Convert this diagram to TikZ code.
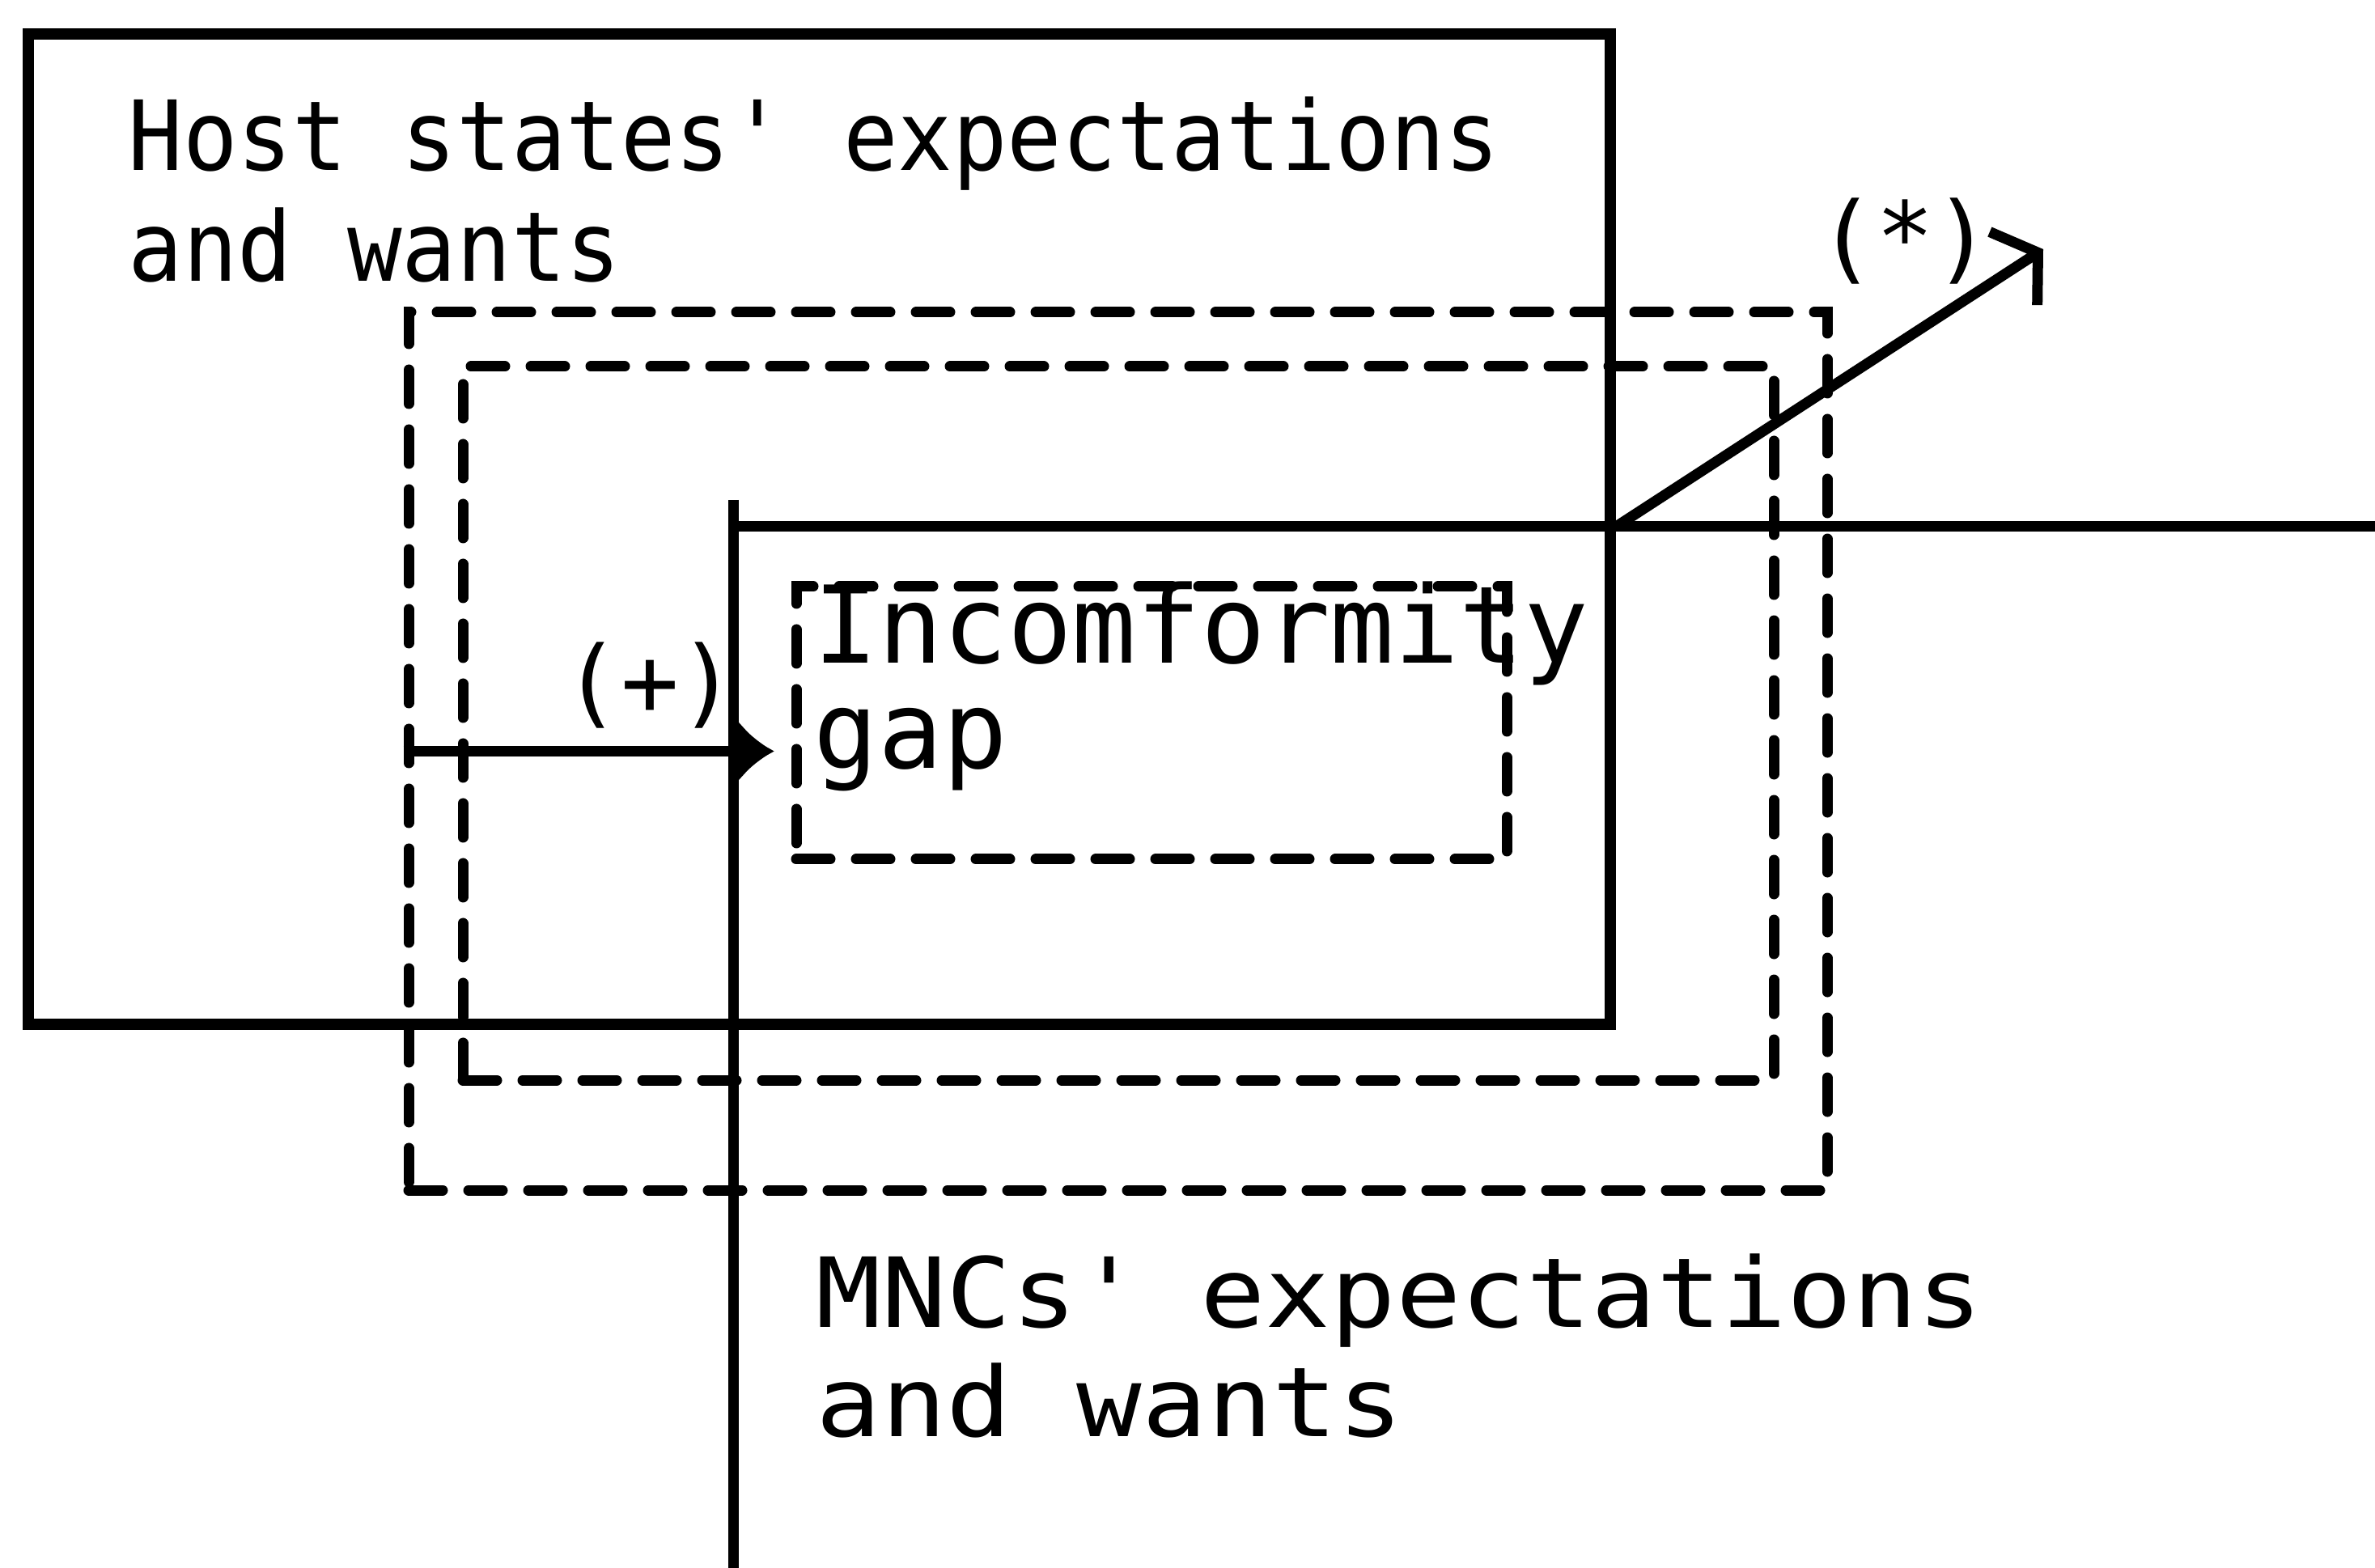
\documentclass[tikz,border=0pt]{standalone}
\usepackage{fontspec}
\usetikzlibrary{positioning, arrows.meta}
\newfontfamily\hostfont[FakeStretch=0.94]{DejaVu Sans Mono}
\newfontfamily\mncfont[FakeStretch=1.12]{DejaVu Sans Mono}
\newfontfamily\gapfont{DejaVu Sans Mono}
\newfontfamily\signfont{DejaVu Sans Mono}

\begin{document}
\begin{tikzpicture}[
    wantbox/.style={draw, line width=1.4mm, inner sep=0pt},
    bandbox/.style={draw, line width=1.3mm, dash pattern=on 4.2mm off 3.2mm, line cap=round, inner sep=0pt},
    lbl/.style={inner sep=0pt, anchor=base west, align=left},
    sign/.style={inner sep=0pt, font=\signfont\fontsize{34}{34}\selectfont},
    gaparrow/.style={-{Latex[length=4.4mm, width=7.6mm]}, line width=1.3mm},
    barb/.style={-{Straight Barb[length=3.6mm, width=10.8mm]}, line width=1.3mm}
  ]
    \useasboundingbox (0,0) rectangle (29.35,-19.38);
    % the two sides
    \node[wantbox, minimum width=19.55cm, minimum height=12.24cm] (host) at (10.125,-6.54) {};
    \coordinate (mnc) at (9.06,-6.51);
    \draw[line width=1.3mm] (9.06,-6.18) -- (9.06,-19.38);
    \draw[line width=1.3mm] (mnc) -- (29.35,-6.51);
    % dashed band and gap
    \node[bandbox, minimum width=17.53cm, minimum height=10.85cm] (outer) at (13.815,-9.285) {};
    \node[bandbox, minimum width=16.20cm, minimum height=8.82cm] (inner) at (13.82,-8.94) {};
    \node[bandbox, minimum width=8.78cm, minimum height=3.37cm] (gapbox) at (14.23,-8.935) {};
    % texts (anchored on the last line)
    \node[lbl, font=\hostfont\fontsize{34}{39.2}\selectfont] (hosttext) at (1.58,-3.48) {Host states\textquotesingle\ expectations\\and wants};
    \node[lbl, font=\mncfont\fontsize{34}{38.4}\selectfont] (mnctext) at (10.08,-17.75) {MNCs\textquotesingle\ expectations\\and wants};
    \node[lbl, font=\gapfont\fontsize{37.7}{37}\selectfont] (gaptext) at (10.05,-9.50) {Incomformity\\gap};
    % arrows
    \coordinate (starend) at (25.25,-3.08);
    \draw[gaparrow, shorten >=0.21cm] (outer.west) -- (outer.west -| gapbox.west);
    \draw[barb] (host.east |- mnc) -- (starend);
    \node[sign] (plus) at (8.03,-8.47) {(+)};
    \node[sign] (star) at (23.54,-2.98) {(*)};
  \end{tikzpicture}
\end{document}
